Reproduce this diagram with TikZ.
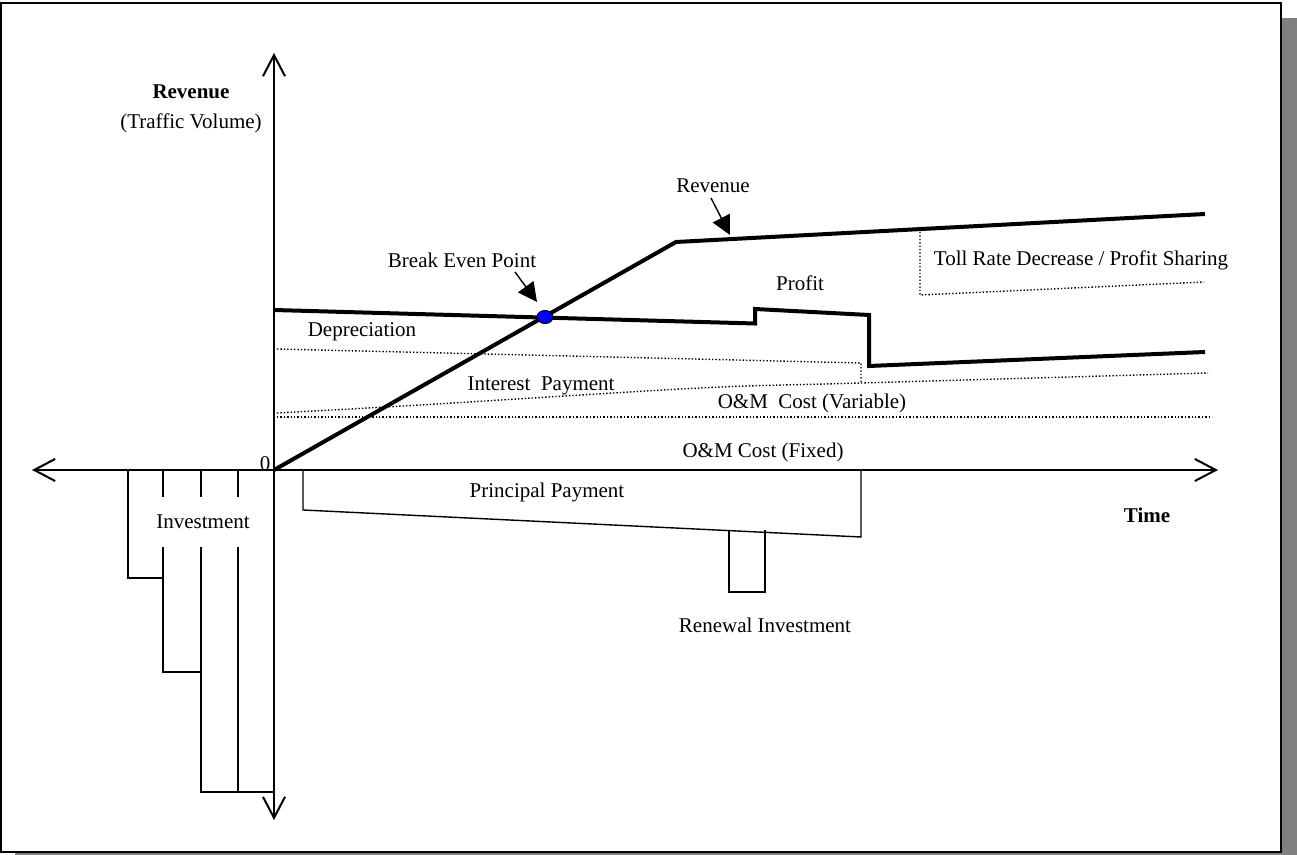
\documentclass[tikz,border=0pt]{standalone}
\usepackage{fontspec}
\setmainfont{Liberation Serif}
\usepackage{tikz}
\definecolor{ombre}{RGB}{128,128,128}
\definecolor{pointbleu}{RGB}{0,0,255}
\usetikzlibrary{arrows.meta}
\usetikzlibrary{shapes.geometric}
\tikzset{
  lbl/.style = {inner sep=0pt, text centered,
    font=\fontsize{10.5}{12}\selectfont},% etiquette simple
  lbl_b/.style = {lbl, font=\fontsize{10.5}{12}\selectfont\bfseries},% etiquette grasse
  axe/.style = {line width=1pt,
    {Straight Barb[length=10.5pt,width=11pt,line width=1pt]}-{Straight Barb[length=10.5pt,width=11pt,line width=1pt]}},
  courbe/.style = {line width=2pt, line join=miter},% revenu, cout total
  fin/.style = {line width=0.7pt},
  pointille/.style = {line width=0.7pt, dash pattern=on 0.7pt off 1pt},
  fleche/.style = {line width=0.7pt, -{Triangle[length=9.5pt,width=9.5pt]}},
  bep_n/.style = {ellipse, draw=black, fill=pointbleu, line width=0.5pt,
    minimum width=8pt, minimum height=6.5pt, inner sep=0pt},
}

\begin{document}
\begin{tikzpicture}[x=0.5pt,y=-0.5pt]
  \useasboundingbox (0,0) rectangle (1297,855);

  % cadre et ombre
  \fill[ombre] (15,18) rectangle (1297,855);
  \draw[line width=1pt, fill=white] (1,3) rectangle (1281,852);

  \coordinate (xg) at (32,470);
  \coordinate (xd) at (1218,470);
  \coordinate (yh) at (274,53);
  \coordinate (yb) at (274,820);
  \coordinate (o) at (274,470);

  % investissement
  \draw[fin] (128,470) |- (163,578) |- (201,672) |- (274,792);
  \draw[fin] (163,470) -- (163,578);
  \draw[fin] (201,470) -- (201,672);
  \draw[fin] (238,470) -- (238,792);
  \node[lbl, fill=white, minimum height=25pt] (inv) at (203,522) {Investment};

  % remboursement et renouvellement
  \draw[fin] (303,470) -- (303,510) -- (861,537) -- (861,470);
  \draw[fin] (729,531) -- (729,592) -- (765,592) -- (765,530);

  % couts
  \draw[pointille] (277,349) -- (861,363) -- (861,383);
  \draw[pointille] plot[smooth] coordinates {(277,413) (420,405) (700,388) (861,383) (1208,373)};
  \draw[pointille] (277,417) -- (1212,417);
  \draw[pointille] (920,232) -- (920,295) -- (1204,282);

  % axes
  \draw[axe] (xg) -- (xd);
  \draw[axe] (yb) -- (yh);

  % revenu et cout total
  \draw[courbe] (o) -- (676,242) -- (1205,214);
  \draw[courbe] (274,310) -- (755,323.5) -- (755,309) -- (869,315) -- (869,366) -- (1205,352);

  \node[bep_n] (bep) at (545,317) {};

  \node[lbl_b] (revt) at (191,92) {Revenue};
  \node[lbl] (trafic) at (191,123) {(Traffic Volume)};
  \node[lbl] (bepl) at (462,260) {Break Even Point};
  \node[lbl] (revl) at (713,186) {Revenue};
  \node[lbl] (profit) at (800,283) {Profit};
  \node[lbl] (toll) at (1081,260) {Toll Rate Decrease / Profit Sharing};
  \node[lbl] (dep) at (362,332) {Depreciation};
  \node[lbl] (int) at (541,386) {Interest\ \ Payment};
  \node[lbl] (omv) at (812,403) {O\&M\ \ Cost (Variable)};
  \node[lbl] (omf) at (763,452) {O\&M Cost (Fixed)};
  \node[lbl] (zero) at (265,464) {0};
  \node[lbl] (princ) at (547,492) {Principal Payment};
  \node[lbl] (renew) at (765,625) {Renewal Investment};
  \node[lbl_b] (temps) at (1147,515) {Time};

  % fleches
  \coordinate (bepq) at (515,272);
  \coordinate (bept) at (537,302);
  \coordinate (revq) at (711,198);
  \coordinate (revp) at (730,235);
  \path[fleche] (bepq) edge (bept);
  \path[fleche] (revq) edge (revp);
\end{tikzpicture}
\end{document}
